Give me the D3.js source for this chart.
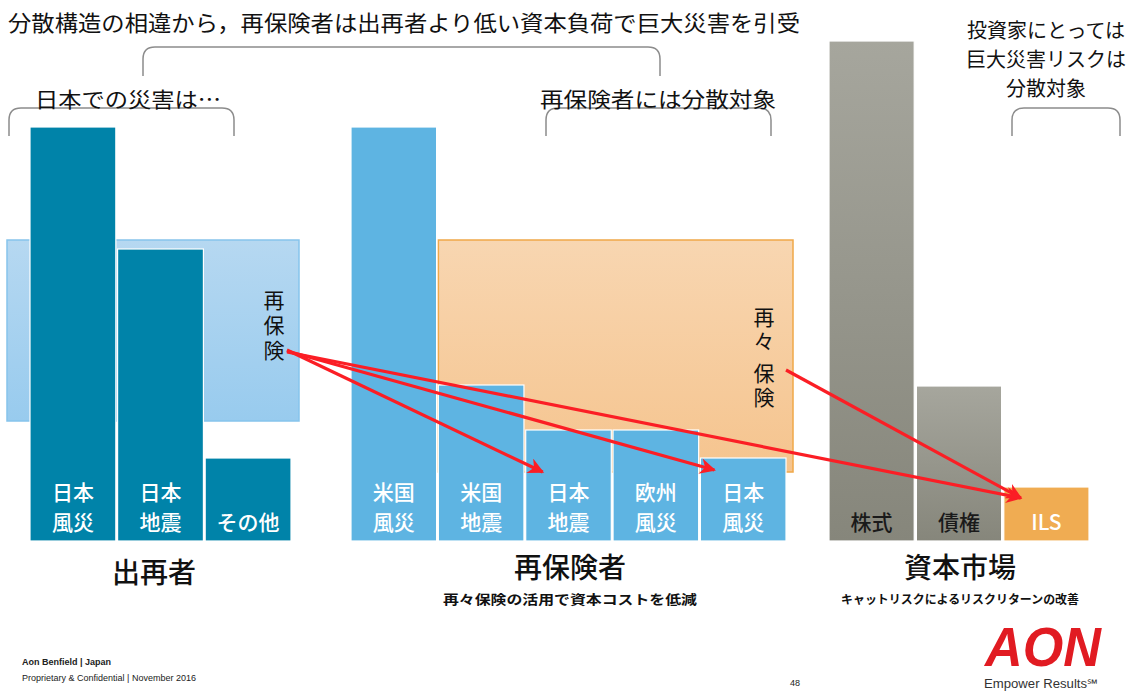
<!DOCTYPE html>
<html lang="ja">
<head>
<meta charset="UTF-8">
<title>分散構造の相違</title>
<script src="https://d3js.org/d3.v7.min.js"></script>
<style>
  body { margin: 0; background: #fff; }
  svg { display: block; font-family: "Noto Sans CJK JP", sans-serif; }
  .vert { writing-mode: vertical-rl; text-orientation: upright; }
</style>
</head>
<body>
<svg width="1141" height="691"></svg>
<script>
// --- data (arbitrary units, 株式 = 100) ---
const cedentLabels = [["日本", "風災"], ["日本", "地震"], ["その他"]];
const cedentValues = [82.8, 58.4, 16.6];
const reinsurerLabels = [["米国", "風災"], ["米国", "地震"], ["日本", "地震"], ["欧州", "風災"], ["日本", "風災"]];
const reinsurerValues = [82.8, 31.2, 22.2, 22.2, 16.6];
const marketLabels = [["株式"], ["債権"], ["ILS"]];
const marketValues = [100, 31, 10.8];
const reinsuranceBand = [24, 60.2];   // 再保険 (出再者)
const retroBand = [13.8, 60.2];       // 再々保険 (再保険者)
const groupNames = ["出再者", "再保険者", "資本市場"];
const groupNotes = ["", "再々保険の活用で資本コストを低減", "キャットリスクによるリスクリターンの改善"];

const svg = d3.select("svg");
const y = d3.scaleLinear().domain([0, 100]).range([541, 41]);

const x1 = d3.scaleBand().domain(d3.range(3)).range([30, 291]).paddingInner(0.02);
const x2 = d3.scaleBand().domain(d3.range(5)).range([351, 786]).paddingInner(0.02);
const x3 = d3.scaleBand().domain(d3.range(3)).range([829, 1089]).paddingInner(0.025);

const defs = svg.append("defs");
function grad(id, top, bottom) {
  const g = defs.append("linearGradient").attr("id", id).attr("x1", 0).attr("y1", 0).attr("x2", 0).attr("y2", 1);
  g.append("stop").attr("offset", "0%").attr("stop-color", top);
  g.append("stop").attr("offset", "100%").attr("stop-color", bottom);
}
grad("gBlue", "#b6d8f1", "#98cbee");
grad("gPeach", "#f8d6b1", "#f5c48e");
grad("gGray", "#a6a69d", "#86867b");

defs.append("marker")
  .attr("id", "head").attr("viewBox", "0 0 10 10").attr("refX", 9).attr("refY", 5)
  .attr("markerWidth", 20).attr("markerHeight", 16).attr("markerUnits", "userSpaceOnUse")
  .attr("orient", "auto")
  .append("path").attr("d", "M0,0 L10,5 L0,10 L3,5 Z").attr("fill", "#fb1e25");

// --- title and braces ---
svg.append("text").attr("x", 8).attr("y", 31).attr("font-size", 22)
  .attr("textLength", 792).attr("lengthAdjust", "spacingAndGlyphs").attr("fill", "#111")
  .text("分散構造の相違から，再保険者は出再者より低い資本負荷で巨大災害を引受");

function brace(xa, xb, top, bottom) {
  const r = 12;
  svg.append("path")
    .attr("d", `M${xa},${bottom} L${xa},${top + r} Q${xa},${top} ${xa + r},${top} L${xb - r},${top} Q${xb},${top} ${xb},${top + r} L${xb},${bottom}`)
    .attr("fill", "none").attr("stroke", "#8c8c8c").attr("stroke-width", 1.5);
}
brace(143, 660, 47, 76);
brace(9, 234, 108, 136);
brace(546, 771, 108, 136);
brace(1012, 1120, 108, 136);

svg.append("text").attr("x", 35).attr("y", 107).attr("font-size", 21).attr("fill", "#111")
  .attr("textLength", 186).attr("lengthAdjust", "spacingAndGlyphs").text("日本での災害は…");
svg.append("text").attr("x", 540).attr("y", 107).attr("font-size", 21).attr("fill", "#111")
  .attr("textLength", 236).attr("lengthAdjust", "spacingAndGlyphs").text("再保険者には分散対象");
["投資家にとっては", "巨大災害リスクは", "分散対象"].forEach((t, i) => {
  svg.append("text").attr("x", 1046).attr("y", 38 + i * 29).attr("font-size", 20)
    .attr("text-anchor", "middle").attr("fill", "#111").text(t);
});

// --- background bands ---
const bw2 = x2.bandwidth();
const band1 = { x0: x1.range()[0] - 23, x1: x1.range()[1] + 8 };
svg.append("rect")
  .attr("x", band1.x0).attr("y", y(reinsuranceBand[1]))
  .attr("width", band1.x1 - band1.x0).attr("height", y(reinsuranceBand[0]) - y(reinsuranceBand[1]))
  .attr("fill", "url(#gBlue)").attr("stroke", "#86c4ec").attr("stroke-width", 1.5);
const band2 = { x0: x2(1), x1: x2(4) + bw2 + 7 };
svg.append("rect")
  .attr("x", band2.x0).attr("y", y(retroBand[1]))
  .attr("width", band2.x1 - band2.x0).attr("height", y(retroBand[0]) - y(retroBand[1]))
  .attr("fill", "url(#gPeach)").attr("stroke", "#f0a848").attr("stroke-width", 1.5);

// --- bars ---
function drawBars(xs, values, labels, fill, textFill) {
  const g = svg.append("g");
  values.forEach((v, i) => {
    const fillC = typeof fill === "function" ? fill(i) : fill;
    g.append("rect")
      .attr("x", xs(i)).attr("y", y(v)).attr("width", xs.bandwidth()).attr("height", y(0) - y(v))
      .attr("fill", fillC).attr("stroke", "#fff").attr("stroke-width", 1.2);
    const lines = labels[i];
    const tc = typeof textFill === "function" ? textFill(i) : textFill;
    lines.forEach((t, j) => {
      g.append("text")
        .attr("x", xs(i) + xs.bandwidth() / 2)
        .attr("y", y(0) - 11 - (lines.length - 1 - j) * 30)
        .attr("text-anchor", "middle").attr("font-size", 21).attr("font-weight", 500)
        .attr("fill", tc).text(t);
    });
  });
}
drawBars(x1, cedentValues, cedentLabels, "#0083a9", "#fff");
drawBars(x2, reinsurerValues, reinsurerLabels, "#5eb4e2", "#fff");
drawBars(x3, marketValues, marketLabels, i => i < 2 ? "url(#gGray)" : "#f0ac52", i => i < 2 ? "#1a1a1a" : "#fff");

// --- vertical labels ---
const vt1x = band1.x1 - 25, vt2x = band2.x1 - 29;
svg.append("text").attr("class", "vert").attr("x", vt1x).attr("y", 290)
  .attr("font-size", 21).attr("letter-spacing", 4).attr("fill", "#111").text("再保険");
svg.append("text").attr("class", "vert").attr("x", vt2x).attr("y", 307)
  .attr("font-size", 21).attr("letter-spacing", 3).attr("fill", "#111").text("再々\u2009保険");

// --- arrows ---
const arrows = [
  { from: [vt1x + 13, 350], to: [x2(2) + 17, y(reinsurerValues[2]) + 42] },
  { from: [vt1x + 13, 351], to: [x2(4) + 14, y(reinsurerValues[4]) + 12] },
  { from: [vt1x + 13, 352], to: [x3(2) + 17, y(marketValues[2]) + 11] },
  { from: [vt2x + 22, 370], to: [x3(2) + 17, y(marketValues[2]) + 11] }
];
svg.append("g").selectAll("line").data(arrows).join("line")
  .attr("x1", d => d.from[0]).attr("y1", d => d.from[1])
  .attr("x2", d => d.to[0]).attr("y2", d => d.to[1])
  .attr("stroke", "#fb1e25").attr("stroke-width", 3.2)
  .attr("marker-end", "url(#head)");

// --- group labels ---
const groupCenters = [x1.range()[0] + 124, 570, 960];
groupNames.forEach((n, i) => {
  svg.append("text").attr("x", groupCenters[i]).attr("y", i === 0 ? 583 : 578).attr("text-anchor", "middle")
    .attr("font-size", 28).attr("font-weight", 500).attr("fill", "#111").text(n);
  if (groupNotes[i]) {
    svg.append("text").attr("x", groupCenters[i]).attr("y", 604).attr("text-anchor", "middle")
      .attr("font-size", i === 1 ? 13 : 12).attr("font-weight", 700).attr("fill", "#111")
      .attr("textLength", i === 1 ? 254 : 238).attr("lengthAdjust", "spacingAndGlyphs")
      .text(groupNotes[i]);
  }
});

// --- footer ---
svg.append("text").attr("x", 22).attr("y", 665).attr("font-family", "Arial, 'Liberation Sans', sans-serif")
  .attr("font-size", 9).attr("font-weight", 700).attr("fill", "#222").text("Aon Benfield  |  Japan");
svg.append("text").attr("x", 22).attr("y", 681).attr("font-family", "Arial, 'Liberation Sans', sans-serif")
  .attr("font-size", 9).attr("fill", "#222").text("Proprietary & Confidential  |  November 2016");
svg.append("text").attr("x", 790).attr("y", 686).attr("font-family", "Arial, 'Liberation Sans', sans-serif")
  .attr("font-size", 9).attr("fill", "#222").text("48");
svg.append("text").attr("x", 985).attr("y", 666).attr("font-family", "'Liberation Sans', Arial, sans-serif")
  .attr("font-size", 56).attr("font-weight", 700).attr("font-style", "italic").attr("fill", "#e11b22")
  .attr("textLength", 116).attr("lengthAdjust", "spacingAndGlyphs").text("AON");
svg.append("text").attr("x", 984).attr("y", 688).attr("font-family", "'Liberation Sans Narrow', 'Liberation Sans', sans-serif")
  .attr("font-size", 12).attr("fill", "#333")
  .attr("textLength", 114).attr("lengthAdjust", "spacingAndGlyphs").text("Empower Results℠");
</script>
</body>
</html>
